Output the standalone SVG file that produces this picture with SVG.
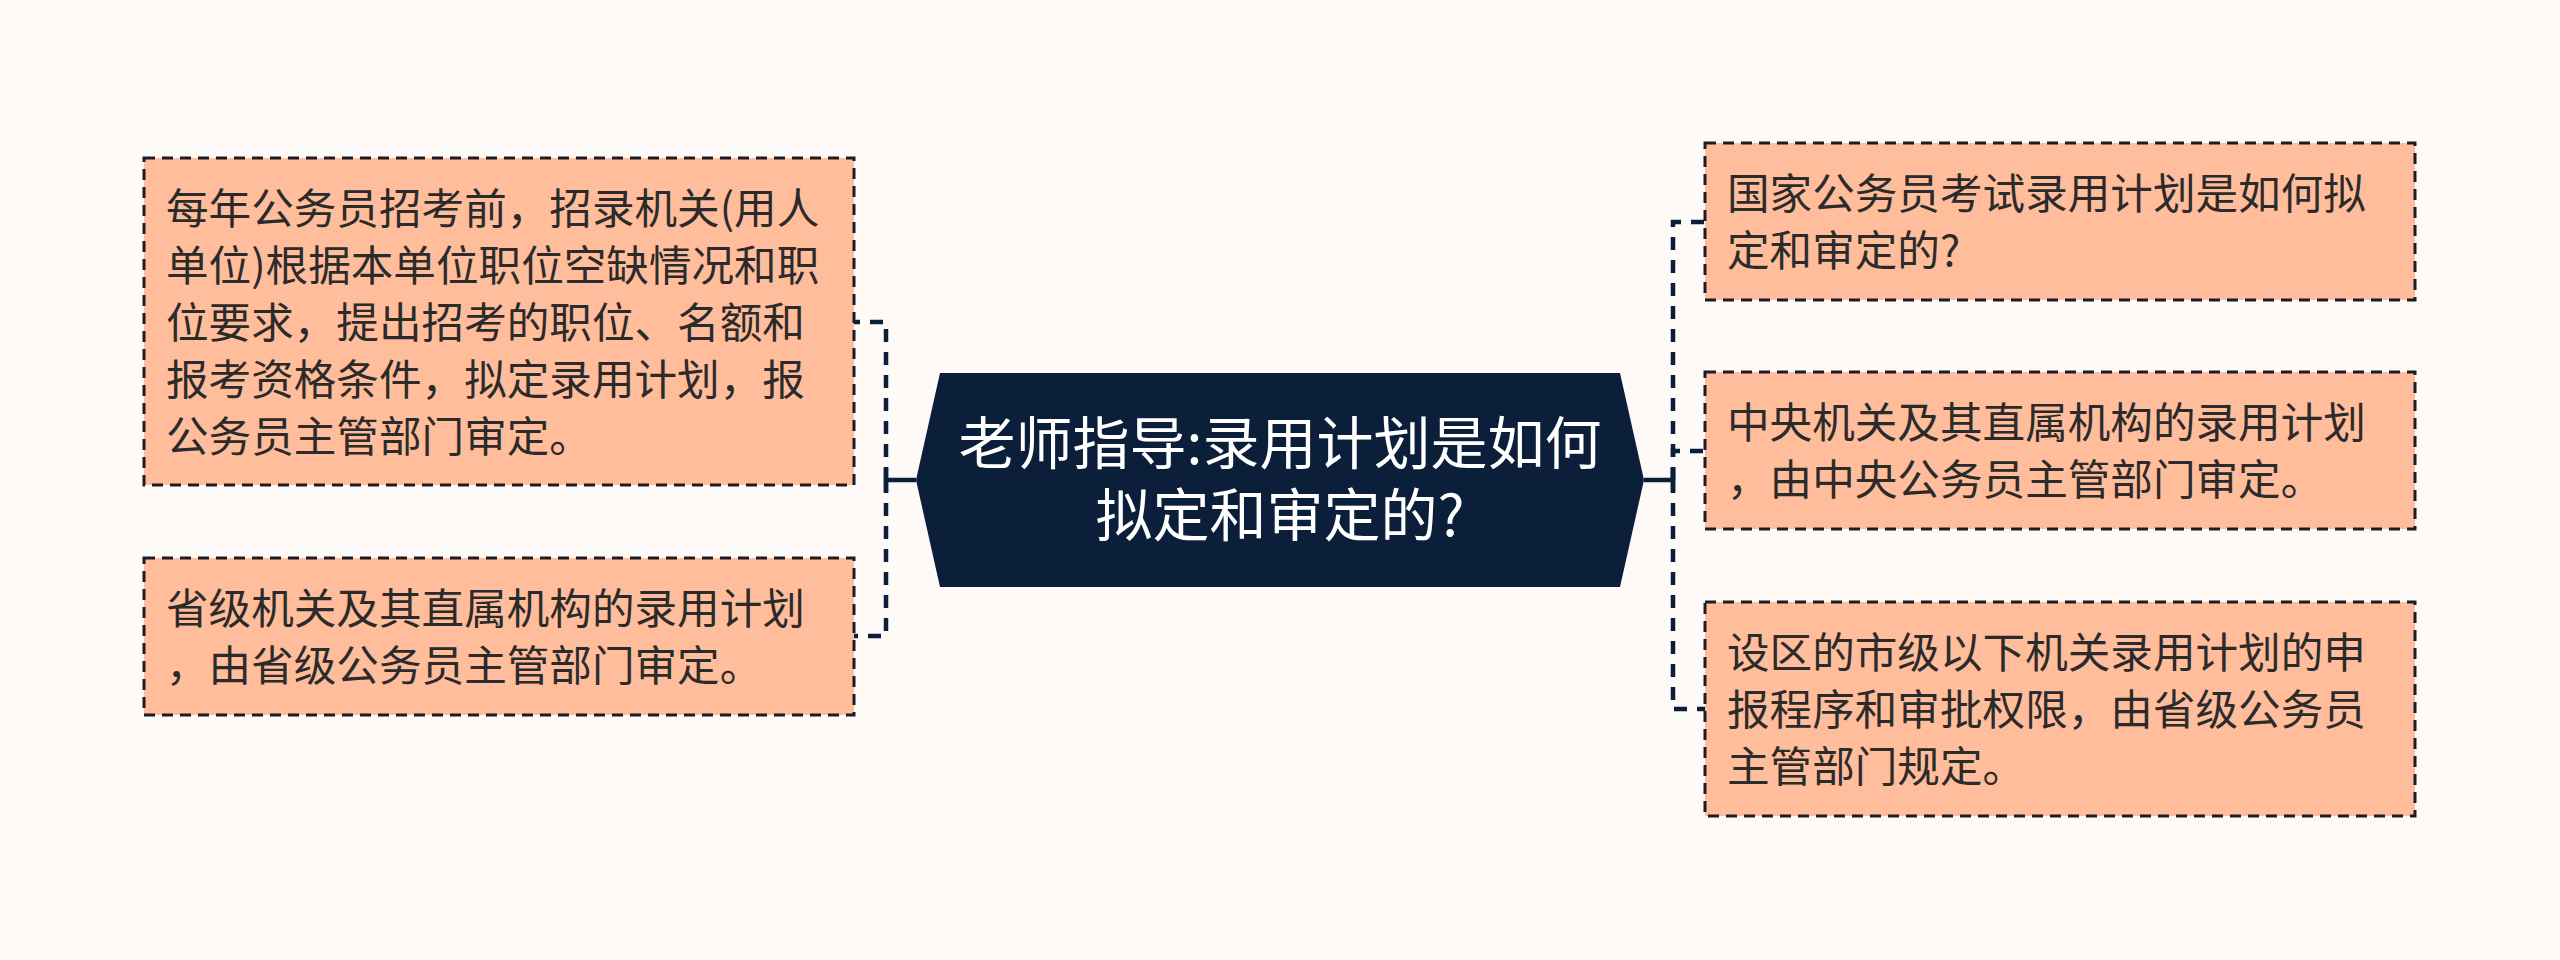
<svg xmlns="http://www.w3.org/2000/svg" width="2560" height="960" viewBox="0 0 2560 960">
<style>
.box{fill:#ffbd9b;stroke:#1c1c24;stroke-width:3;stroke-dasharray:11 7;}
.t{font-family:"Noto Sans CJK SC","Noto Sans",sans-serif;font-size:42.6px;fill:#2b2b2b;}
.title{font-family:"Noto Sans CJK SC","Noto Sans",sans-serif;font-size:57px;fill:#ffffff;text-anchor:middle;}
.stem{fill:none;stroke:#0c1f3a;stroke-width:4.5;}
.dash{fill:none;stroke:#0c1f3a;stroke-width:4.5;stroke-dasharray:13 10;}
</style>
<rect width="2560" height="960" fill="#fdfaf8"/>
<g id="connectors">
<path class="stem" d="M916 480 H886 M886 468 V492"/>
<path class="dash" d="M886 480 V322 H854"/>
<path class="dash" d="M886 480 V636 H854"/>
<path class="stem" d="M1644 480 H1673 M1673 468 V492"/>
<path class="dash" d="M1673 480 V222 H1705"/>
<path class="dash" d="M1673 480 V451 H1705"/>
<path class="dash" d="M1673 480 V709 H1705"/>
</g>
<g id="center">
<polygon points="916,480 940,373 1620,373 1644,480 1620,587 940,587" fill="#0c1f3a"/>
<text class="title"><tspan x="1280" y="464">老师指导:录用计划是如何</tspan><tspan x="1280" y="536">拟定和审定的?</tspan></text>
</g>
<g id="left1">
<rect class="box" x="144" y="158" width="710" height="327"/>
<text class="t"><tspan x="166" y="223.5">每年公务员招考前，招录机关(用人</tspan><tspan x="166" y="280.5">单位)根据本单位职位空缺情况和职</tspan><tspan x="166" y="337.5">位要求，提出招考的职位、名额和</tspan><tspan x="166" y="394.5">报考资格条件，拟定录用计划，报</tspan><tspan x="166" y="451.5">公务员主管部门审定。</tspan></text>
</g>
<g id="left2">
<rect class="box" x="144" y="558" width="710" height="157"/>
<text class="t"><tspan x="166" y="624">省级机关及其直属机构的录用计划</tspan><tspan x="166" y="681">，由省级公务员主管部门审定。</tspan></text>
</g>
<g id="right1">
<rect class="box" x="1705" y="143" width="710" height="157"/>
<text class="t"><tspan x="1727" y="209">国家公务员考试录用计划是如何拟</tspan><tspan x="1727" y="266">定和审定的?</tspan></text>
</g>
<g id="right2">
<rect class="box" x="1705" y="372" width="710" height="157"/>
<text class="t"><tspan x="1727" y="438">中央机关及其直属机构的录用计划</tspan><tspan x="1727" y="495">，由中央公务员主管部门审定。</tspan></text>
</g>
<g id="right3">
<rect class="box" x="1705" y="602" width="710" height="214"/>
<text class="t"><tspan x="1727" y="668">设区的市级以下机关录用计划的申</tspan><tspan x="1727" y="725">报程序和审批权限，由省级公务员</tspan><tspan x="1727" y="782">主管部门规定。</tspan></text>
</g>
</svg>
